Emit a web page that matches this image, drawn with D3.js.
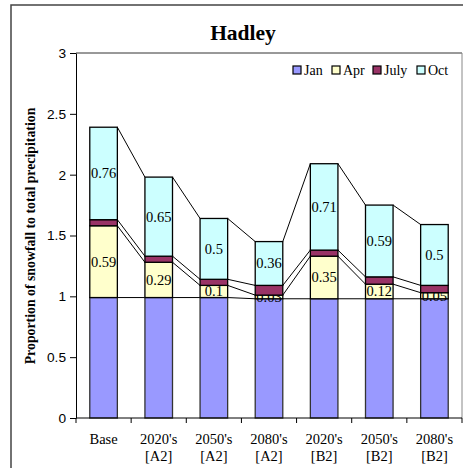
<!DOCTYPE html>
<html><head><meta charset="utf-8">
<script src="https://cdn.jsdelivr.net/npm/d3@7"></script>
<style>body{margin:0;background:#fff}svg{display:block}</style>
</head><body>
<svg id="c" width="463" height="468"></svg>
<script>
const categories = ["Base|", "2020's|[A2]", "2050's|[A2]", "2080's|[A2]", "2020's|[B2]", "2050's|[B2]", "2080's|[B2]"];
const seriesNames = ["Jan", "Apr", "July", "Oct"];
const jan  = [0.99, 0.99, 0.99, 0.98, 0.98, 0.98, 0.98];
const apr  = [0.59, 0.29, 0.10, 0.03, 0.35, 0.12, 0.05];
const july = [0.05, 0.05, 0.05, 0.08, 0.05, 0.06, 0.06];
const oct  = [0.76, 0.65, 0.50, 0.36, 0.71, 0.59, 0.50];
const yTicks = [0, 0.5, 1, 1.5, 2, 2.5, 3];
const colors = ["#9999FF", "#FFFFCC", "#993366", "#CCFFFF"];
const labelled = [false, true, false, true];
const SERIF = "'Liberation Serif', 'Times New Roman', serif";
const SANS = "'Liberation Sans', Arial, sans-serif";

const svg = d3.select("#c");
const L = 76, R = 462, T = 53, B = 418;

svg.append("rect").attr("x", 11).attr("y", 5).attr("width", 480).attr("height", 480)
  .attr("fill", "#fff").attr("stroke", "#444").attr("stroke-width", 1.5);

svg.append("text").attr("x", 243).attr("y", 40).attr("text-anchor", "middle")
  .attr("font-family", SERIF).attr("font-weight", "bold").attr("font-size", 21.5)
  .text("Hadley");

const x = d3.scaleBand().domain(d3.range(categories.length)).range([L, R]).paddingInner(0.5).paddingOuter(0.25);
const y = d3.scaleLinear().domain([0, 3]).range([B, T]);

svg.append("line").attr("x1", L).attr("x2", R).attr("y1", T).attr("y2", T).attr("stroke", "#333");
svg.append("line").attr("x1", R).attr("x2", R).attr("y1", T).attr("y2", B).attr("stroke", "#888");

const data = categories.map((c, i) => ({Jan: jan[i], Apr: apr[i], July: july[i], Oct: oct[i]}));
const stacked = d3.stack().keys(seriesNames)(data);

stacked.forEach((s) => {
  for (let i = 0; i < s.length - 1; i++) {
    svg.append("line")
      .attr("x1", x(i) + x.bandwidth()).attr("y1", y(s[i][1]))
      .attr("x2", x(i + 1)).attr("y2", y(s[i + 1][1]))
      .attr("stroke", "#000").attr("stroke-width", 1);
  }
});

stacked.forEach((s, k) => {
  const g = svg.append("g");
  g.selectAll("rect").data(s).join("rect")
    .attr("x", (d, i) => x(i)).attr("width", x.bandwidth())
    .attr("y", d => y(d[1])).attr("height", d => y(d[0]) - y(d[1]))
    .attr("fill", colors[k]).attr("stroke", k === 0 ? "#333" : "#000").attr("stroke-width", 1.3);
  if (labelled[k]) {
    g.selectAll("text").data(s).join("text")
      .attr("x", (d, i) => x(i) + x.bandwidth() / 2)
      .attr("y", d => (y(d[0]) + y(d[1])) / 2 + 5)
      .attr("text-anchor", "middle").attr("font-family", SERIF).attr("font-size", 14.5)
      .attr("fill", "#000")
      .text(d => d3.format("")(+(d[1] - d[0]).toFixed(2)));
  }
});

const ya = svg.append("g").attr("transform", `translate(${L},0)`)
  .call(d3.axisLeft(y).tickValues(yTicks).tickSize(6).tickSizeOuter(0).tickFormat(d3.format("")));
ya.select(".domain").attr("stroke", "#000");
ya.selectAll(".tick line").attr("stroke", "#000");
ya.selectAll("text").attr("font-family", SANS).attr("font-size", 13.7).attr("fill", "#000").attr("x", -10);

svg.append("line").attr("x1", L).attr("x2", R).attr("y1", B).attr("y2", B).attr("stroke", "#000");
const step = x.step();
d3.range(categories.length + 1).forEach(i => {
  const xx = L + i * step;
  svg.append("line").attr("x1", xx).attr("x2", xx).attr("y1", B).attr("y2", B + 5).attr("stroke", "#000");
});
categories.forEach((c, i) => {
  const parts = c.split("|");
  const t = svg.append("text").attr("text-anchor", "middle")
    .attr("font-family", SERIF).attr("font-size", 14.5);
  parts.forEach((p, j) => {
    if (p) t.append("tspan").attr("x", x(i) + x.bandwidth() / 2).attr("y", 444 + j * 17).text(p);
  });
});

svg.append("text").attr("transform", "translate(35,236) rotate(-90)").attr("text-anchor", "middle")
  .attr("font-family", SERIF).attr("font-weight", "bold").attr("font-size", 13.8)
  .text("Proportion of snowfall to total precipitation");

const legX = [293, 332, 373, 417];
seriesNames.forEach((n, k) => {
  svg.append("rect").attr("x", legX[k]).attr("y", 66).attr("width", 8).attr("height", 8)
    .attr("fill", colors[k]).attr("stroke", "#000").attr("stroke-width", 1.2);
  svg.append("text").attr("x", legX[k] + 11).attr("y", 75)
    .attr("font-family", SERIF).attr("font-size", 14).text(n);
});
</script>
</body></html>
